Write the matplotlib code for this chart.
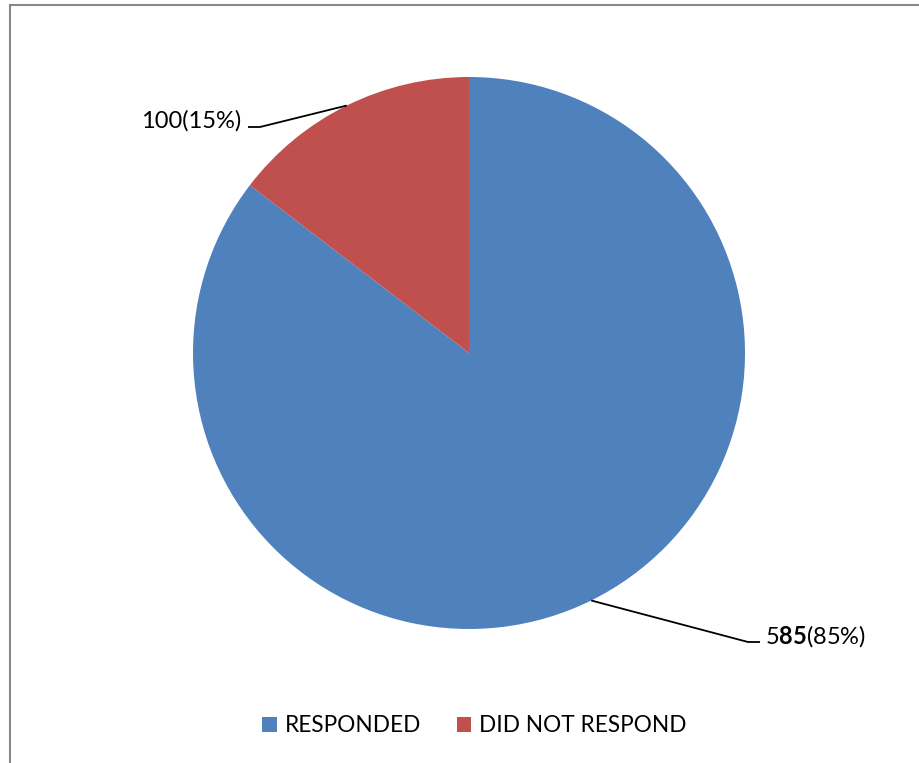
import numpy as np
import matplotlib
matplotlib.use("Agg")
import matplotlib.pyplot as plt
from matplotlib.patches import Patch

plt.rcParams["font.family"] = ["Lato", "DejaVu Sans"]
plt.rcParams["mathtext.fontset"] = "custom"
plt.rcParams["mathtext.rm"] = "Lato"
plt.rcParams["mathtext.bf"] = "Lato:bold"

# survey responses
categories = ["RESPONDED", "DID NOT RESPOND"]
counts = [585, 100]
percents = [85, 15]
colors = ["#4F81BD", "#C0504D"]

W, H = 919, 763
CX, CY, R = 469, 353, 276

fig = plt.figure(figsize=(W / 100, H / 100), dpi=100)
ax = fig.add_axes([(CX - R) / W, (H - CY - R) / H, 2 * R / W, 2 * R / H])
wedges, _ = ax.pie(counts, colors=colors, startangle=90, counterclock=False,
                   radius=1.0, wedgeprops=dict(linewidth=0))
ax.set_xlim(-1, 1)
ax.set_ylim(-1, 1)
ax.set_aspect("equal")
ax.axis("off")


def px(x, y):
    # pixel position -> data coords of the pie axes
    return (x - CX) / R, (CY - y) / R


# label text, elbow of leader line, end of leader line, text anchor
label_texts = [
    r"5$\mathbf{85}$" + f"({percents[0]}%)",
    f"{counts[1]}({percents[1]}%)",
]
elbows = [px(748, 642), px(260, 127)]
ends = [px(760, 642), px(248, 127)]
anchors = [(px(765, 636), "left"), (px(241, 121), "right")]

for w, txt, elb, end, (pos, ha) in zip(wedges, label_texts, elbows, ends, anchors):
    mid = np.deg2rad((w.theta1 + w.theta2) / 2)
    start = (np.cos(mid), np.sin(mid))
    ax.plot([start[0], elb[0], end[0]], [start[1], elb[1], end[1]],
            color="black", lw=1.3, clip_on=False, solid_capstyle="butt")
    ax.text(pos[0], pos[1], txt, ha=ha, va="center", fontsize=17,
            color="black", clip_on=False)

handles = [Patch(facecolor=c, edgecolor="none") for c in colors]
fig.legend(handles, categories, loc="center", ncol=2, frameon=False,
           bbox_to_anchor=(474.5 / W, 1 - 726 / H), fontsize=16.3,
           handlelength=0.62, handleheight=0.62, handletextpad=0.35,
           columnspacing=1.6)

# chart border: top and left edges only
fig.add_artist(plt.Line2D([10 / W, 10 / W], [0, 1 - 4.5 / H], transform=fig.transFigure,
                          color="#888888", lw=1.5))
fig.add_artist(plt.Line2D([10 / W, 1], [1 - 4.5 / H, 1 - 4.5 / H], transform=fig.transFigure,
                          color="#888888", lw=1.5))

fig.savefig("out.png", dpi=100, facecolor="white")
